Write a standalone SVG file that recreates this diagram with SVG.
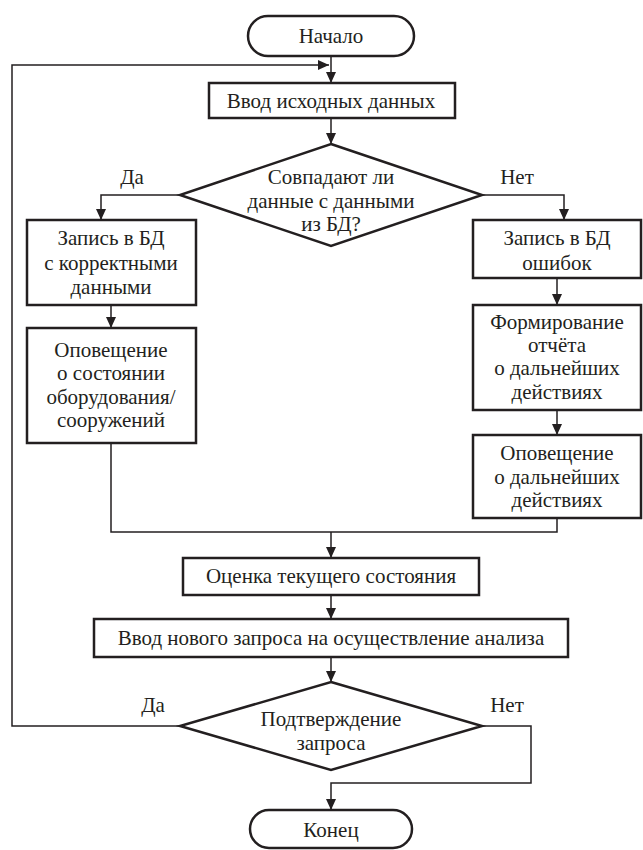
<svg xmlns="http://www.w3.org/2000/svg" width="643" height="850" viewBox="0 0 643 850">
<defs>
<marker id="arr" markerUnits="userSpaceOnUse" markerWidth="12" markerHeight="10" refX="11" refY="5" orient="auto">
<path d="M0,0 L11,5 L0,10 z" fill="#231f20"/>
</marker>
<style>
.n{fill:#fff;stroke:#231f20;stroke-width:2.5}
.c{fill:none;stroke:#231f20;stroke-width:1.5}
.a{fill:none;stroke:#231f20;stroke-width:1.5;marker-end:url(#arr)}
</style>
</defs>
<rect width="643" height="850" fill="#fff"/>
<g id="connectors">
<line class="a" x1="331" y1="56" x2="331" y2="83"/>
<path class="a" d="M180,726 H12 V65 H329"/>
<line class="a" x1="331" y1="118" x2="331" y2="144"/>
<path class="a" d="M180,195 H101 V220"/>
<path class="a" d="M482,195 H564 V220"/>
<line class="a" x1="111" y1="305" x2="111" y2="328"/>
<line class="a" x1="557" y1="278" x2="557" y2="305"/>
<line class="a" x1="557" y1="410" x2="557" y2="435"/>
<path class="c" d="M111,443 V532 H557 V518"/>
<line class="a" x1="331" y1="532" x2="331" y2="558"/>
<line class="a" x1="331" y1="595" x2="331" y2="619"/>
<line class="a" x1="331" y1="657" x2="331" y2="682"/>
<path class="a" d="M482,726 H531 V783 H331 V810"/>
</g>
<g id="labels" font-family="Liberation Serif, serif" font-size="21" fill="#231f20" text-anchor="middle">
<text x="132" y="184">Да</text>
<text x="517" y="184">Нет</text>
<text x="153" y="712">Да</text>
<text x="507" y="712">Нет</text>
</g>
<g id="nodes" font-family="Liberation Serif, serif" font-size="21" fill="#231f20" text-anchor="middle">
<g id="start">
<rect class="n" x="248" y="16" width="166" height="40" rx="20"/>
<text x="331" y="43">Начало</text>
</g>
<g id="input">
<rect class="n" x="209" y="83" width="246" height="35"/>
<text x="331" y="108">Ввод исходных данных</text>
</g>
<g id="decision1">
<polygon class="n" points="331,144 482,195 331,246 180,195"/>
<text x="331" y="184">Совпадают ли</text>
<text x="331" y="208">данные с данными</text>
<text x="331" y="231">из БД?</text>
</g>
<g id="write-correct">
<rect class="n" x="27" y="220" width="169" height="85"/>
<text x="111" y="245">Запись в БД</text>
<text x="111" y="270">с корректными</text>
<text x="111" y="294">данными</text>
</g>
<g id="notify-state">
<rect class="n" x="27" y="328" width="169" height="115"/>
<text x="111" y="357">Оповещение</text>
<text x="111" y="380">о состоянии</text>
<text x="111" y="404">оборудования/</text>
<text x="111" y="427">сооружений</text>
</g>
<g id="write-errors">
<rect class="n" x="473" y="220" width="168" height="58"/>
<text x="557" y="245">Запись в БД</text>
<text x="557" y="270">ошибок</text>
</g>
<g id="report">
<rect class="n" x="473" y="305" width="168" height="105"/>
<text x="557" y="329">Формирование</text>
<text x="557" y="352">отчёта</text>
<text x="557" y="375">о дальнейших</text>
<text x="557" y="399">действиях</text>
</g>
<g id="notify-actions">
<rect class="n" x="473" y="435" width="168" height="83"/>
<text x="557" y="460">Оповещение</text>
<text x="557" y="484">о дальнейших</text>
<text x="557" y="507">действиях</text>
</g>
<g id="assess">
<rect class="n" x="183" y="558" width="296" height="37"/>
<text x="331" y="583">Оценка текущего состояния</text>
</g>
<g id="new-request">
<rect class="n" x="94" y="619" width="474" height="38"/>
<text x="331" y="645">Ввод нового запроса на осуществление анализа</text>
</g>
<g id="decision2">
<polygon class="n" points="331,682 482,726 331,770 180,726"/>
<text x="331" y="726">Подтверждение</text>
<text x="331" y="750">запроса</text>
</g>
<g id="end">
<rect class="n" x="250" y="810" width="162" height="38" rx="19"/>
<text x="331" y="837">Конец</text>
</g>
</g>
</svg>
